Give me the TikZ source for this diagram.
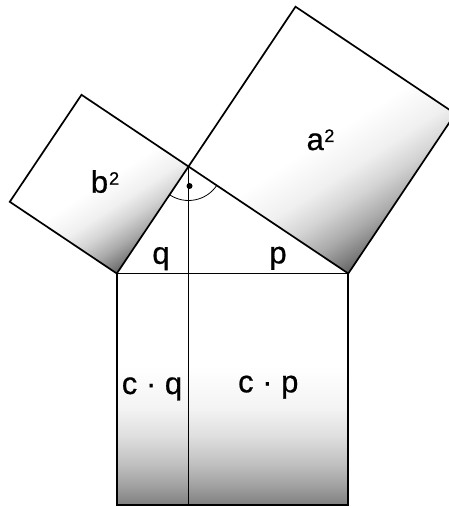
\documentclass[tikz,border=0pt]{standalone}
\usepackage{fontspec}
\setmainfont{Liberation Sans}
\newfontfamily\lblfont{Liberation Sans}[FakeBold=0.6]
\usetikzlibrary{calc}
\pgfdeclareverticalshading{sqgrad}{100bp}{color(0bp)=(black!67); color(25bp)=(black!67); color(28.75bp)=(black!49); color(32.5bp)=(black!33); color(37.5bp)=(black!17); color(42.5bp)=(black!6); color(50bp)=(white); color(100bp)=(white)}
\pgfdeclareverticalshading{rectgrad}{100bp}{color(0bp)=(black!50); color(25bp)=(black!50); color(29.5bp)=(black!36); color(34bp)=(black!24.5); color(40bp)=(black!12.5); color(46bp)=(black!4.5); color(55bp)=(white); color(100bp)=(white)}
\newcommand{\supsq}{\raisebox{8pt}{\fontsize{18}{20}\selectfont 2}}
\begin{document}
\begin{tikzpicture}[x=1pt,y=1pt,
  edge/.style={line width=1.7pt, line join=miter},
  thinline/.style={line width=0.9pt},
  sqshade/.style={shading=sqgrad, shading angle=33},
  rectshade/.style={shading=rectgrad},
  lbl/.style={font=\lblfont\fontsize{31}{36}\selectfont, inner sep=0pt, anchor=base},
]
\useasboundingbox (0,0) rectangle (449,507);
\clip (0,0) rectangle (449,507);
\coordinate (A) at (116.8,233.5);
\coordinate (B) at (348.3,233.5);
\coordinate (C) at (188.5,340.5);
\coordinate (D) at (188.5,233.5);
\coordinate (A2) at (116.8,2);
\coordinate (B2) at (348.3,2);
\coordinate (D2) at (188.5,2);
\coordinate (Ta) at ($(C)!1!90:(B)$);
\coordinate (Ra) at ($(B)!1!-90:(C)$);
\coordinate (Lb) at ($(A)!1!90:(C)$);
\coordinate (Tb) at ($(C)!1!-90:(A)$);
% shaded fills
\shade[sqshade] (A) -- (C) -- (Tb) -- (Lb) -- cycle;
\shade[sqshade] (C) -- (B) -- (Ra) -- (Ta) -- cycle;
\shade[rectshade] (A) -- (D) -- (D2) -- (A2) -- cycle;
\shade[rectshade] (D) -- (B) -- (B2) -- (D2) -- cycle;
% outlines
\draw[edge] (A) -- (C) -- (Tb) -- (Lb) -- cycle;
\draw[edge] (C) -- (B) -- (Ra) -- (Ta) -- cycle;
\draw[edge] (A) -- (B) -- (B2) -- (A2) -- cycle;
\draw[edge] (D) -- (D2);
\draw[thinline] (C) -- (D);
% right angle mark
\draw[line width=0.8pt] ($(C)+(-123.8:34)$) arc[start angle=-123.8, end angle=-33.8, radius=34];
\fill ($(C)+(1,-19.5)$) circle (3);
% labels
\node[lbl] (b2) at (105,314.3) {b\kern1pt\supsq};
\node[lbl] (a2) at (320.5,357) {a\kern0.5pt\supsq};
\node[lbl] (q) at (161,243.2) {q};
\node[lbl] (p) at (278,243.6) {p};
\node[lbl] (cq) at (152,113) {c · q};
\node[lbl] (cp) at (268.3,114.7) {c · p};
\end{tikzpicture}
\end{document}
